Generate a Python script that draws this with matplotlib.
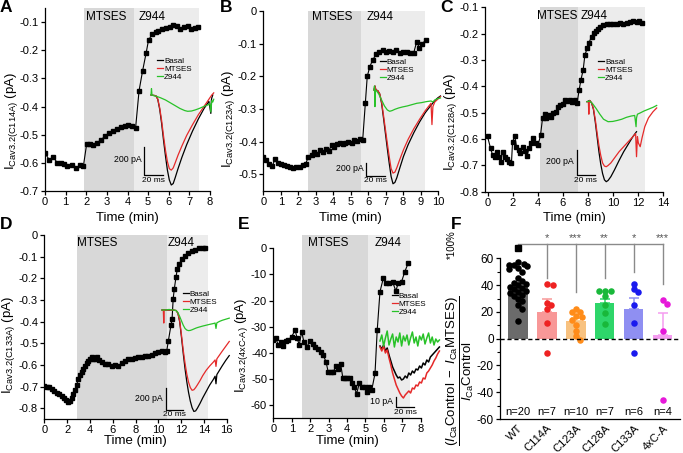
import numpy as np
import matplotlib
matplotlib.use('Agg')
import matplotlib.pyplot as plt
from matplotlib.lines import Line2D
from matplotlib.ticker import FuncFormatter, FixedLocator
import matplotlib.transforms as mtransforms
from matplotlib.mathtext import MathTextParser

plt.rcParams['font.family'] = ['Liberation Sans', 'DejaVu Sans']
plt.rcParams['mathtext.fontset'] = 'custom'
plt.rcParams['mathtext.rm'] = 'Liberation Sans'
plt.rcParams['mathtext.it'] = 'Liberation Sans:italic'
plt.rcParams['mathtext.bf'] = 'Liberation Sans:bold'
plt.rcParams['axes.unicode_minus'] = False

# ======================= DATA =======================
# --- time courses (min, pA) ---
A_t = [0, 0.21, 0.4, 0.6, 0.76, 0.92, 1.08, 1.29, 1.5, 1.7, 1.86,
       2.02, 2.18, 2.34, 2.54, 2.71, 2.91, 3.1, 3.31, 3.5, 3.68, 3.88, 4.04, 4.22, 4.39,
       4.56, 4.73, 4.9, 5.02, 5.19, 5.36, 5.5, 5.69, 5.86, 6.06, 6.22, 6.41, 6.54, 6.74, 6.91, 7.1, 7.27, 7.43]
A_y = [-0.565, -0.59, -0.58, -0.60, -0.60, -0.605, -0.61, -0.607, -0.62, -0.608, -0.612,
       -0.533, -0.534, -0.538, -0.528, -0.519, -0.505, -0.493, -0.486, -0.481, -0.474, -0.469, -0.467, -0.468, -0.478,
       -0.344, -0.274, -0.211, -0.164, -0.144, -0.137, -0.132, -0.126, -0.12, -0.117, -0.111, -0.115, -0.126, -0.119, -0.114, -0.124, -0.121, -0.119]
A_mtses = (1.9, 4.3)
A_z944 = (4.3, 7.45)

B_t = [0, 0.18, 0.35, 0.52, 0.68, 0.85, 1.02, 1.2, 1.38, 1.55, 1.72, 1.9, 2.08, 2.25, 2.42,
       2.58, 2.77, 2.92, 3.09, 3.24, 3.4, 3.57, 3.74, 3.91, 4.05, 4.2, 4.39, 4.54, 4.68, 4.87, 5.06, 5.21, 5.38, 5.53, 5.69,
       5.84, 5.95, 6.1, 6.26, 6.45, 6.64, 6.83, 7.0, 7.2, 7.4, 7.6, 7.8, 8.0, 8.2, 8.4, 8.6, 8.78, 8.93, 9.1, 9.3]
B_y = [-0.448, -0.457, -0.467, -0.474, -0.452, -0.465, -0.468, -0.47, -0.474, -0.478, -0.48, -0.478, -0.478, -0.472, -0.468,
       -0.447, -0.442, -0.431, -0.439, -0.424, -0.431, -0.421, -0.428, -0.411, -0.416, -0.406, -0.403, -0.408, -0.404, -0.401, -0.405, -0.396, -0.398, -0.392, -0.394,
       -0.283, -0.20, -0.17, -0.15, -0.133, -0.125, -0.12, -0.125, -0.122, -0.127, -0.12, -0.128, -0.126, -0.125, -0.13, -0.13, -0.094, -0.112, -0.10, -0.089]
B_mtses = (2.57, 5.62)
B_z944 = (5.62, 9.28)

C_t = [0, 0.24, 0.4, 0.58, 0.77, 0.93, 1.04, 1.2, 1.38, 1.57, 1.73, 1.91, 2.0, 2.18, 2.31, 2.5, 2.63, 2.8, 2.98, 3.16, 3.3, 3.5, 3.64, 3.85, 4.04, 4.23,
       4.39, 4.57, 4.7, 4.9, 5.05, 5.24, 5.45, 5.64, 5.82, 6.04, 6.2, 6.38, 6.57, 6.78, 6.97, 7.15,
       7.31, 7.45, 7.63, 7.77, 7.95, 8.1, 8.3, 8.48, 8.64, 8.83, 9.0, 9.2, 9.5, 9.76, 10.0, 10.3, 10.55, 10.8, 11.1, 11.35, 11.6, 11.9, 12.1, 12.3]
C_y = [-0.59, -0.635, -0.66, -0.667, -0.648, -0.667, -0.689, -0.648, -0.67, -0.677, -0.686, -0.692, -0.61, -0.589, -0.629, -0.64, -0.654, -0.63, -0.644, -0.665, -0.635, -0.616, -0.597, -0.614, -0.623, -0.585,
       -0.521, -0.505, -0.52, -0.509, -0.515, -0.503, -0.496, -0.48, -0.47, -0.468, -0.452, -0.455, -0.45, -0.458, -0.45, -0.462,
       -0.414, -0.376, -0.338, -0.281, -0.256, -0.234, -0.211, -0.199, -0.19, -0.184, -0.175, -0.168, -0.165, -0.162, -0.162, -0.165, -0.16, -0.162, -0.16, -0.157, -0.153, -0.155, -0.152, -0.16]
C_mtses = (4.18, 7.18)
C_z944 = (7.18, 12.6)

D_t = [0, 0.2, 0.44, 0.65, 0.85, 1.08, 1.3, 1.52, 1.72, 1.9, 2.1, 2.25, 2.4, 2.55, 2.7, 2.84, 2.98, 3.13, 3.27, 3.42, 3.57, 3.71, 3.86, 4.0, 4.15, 4.3, 4.44, 4.59,
       4.8, 5.03, 5.32, 5.61, 5.9, 6.2, 6.49, 6.78, 7.08, 7.37, 7.66, 7.95, 8.25, 8.54, 8.83, 9.12, 9.42, 9.71, 10.0, 10.29, 10.58, 10.73,
       10.88, 11.1, 11.2, 11.3, 11.4, 11.55, 11.67, 11.84, 12.05, 12.34, 12.63, 12.92, 13.2, 13.6, 13.95, 14.1]
D_y = [-0.697, -0.70, -0.703, -0.71, -0.72, -0.728, -0.735, -0.743, -0.751, -0.763, -0.77, -0.765, -0.751, -0.735, -0.717, -0.692, -0.666, -0.645, -0.635, -0.619, -0.604, -0.593, -0.58, -0.575, -0.565, -0.572, -0.575, -0.565,
       -0.578, -0.588, -0.596, -0.596, -0.604, -0.599, -0.604, -0.593, -0.58, -0.573, -0.573, -0.568, -0.565, -0.562, -0.557, -0.557, -0.553, -0.546, -0.542, -0.537, -0.539, -0.537,
       -0.488, -0.418, -0.39, -0.294, -0.248, -0.193, -0.155, -0.132, -0.113, -0.098, -0.085, -0.074, -0.067, -0.062, -0.062, -0.062]
D_mtses = (2.84, 10.73)
D_z944 = (10.73, 14.33)

E_t = [0, 0.14, 0.27, 0.4, 0.54, 0.69, 0.81, 1.0, 1.18, 1.3, 1.41, 1.54, 1.66, 1.81, 1.99, 2.13, 2.26, 2.44, 2.57, 2.71,
       2.86, 2.98, 3.11, 3.25, 3.4, 3.53, 3.65, 3.78, 3.89, 4.02, 4.14, 4.25, 4.38, 4.52, 4.67, 4.81, 4.97, 5.06, 5.21, 5.34,
       5.52, 5.64, 5.79, 5.97, 6.11, 6.29, 6.47, 6.65, 6.78, 6.96, 7.14, 7.32]
E_y = [-34.9, -34.5, -37, -35.8, -37.4, -35.5, -35.1, -33.8, -31.3, -34.5, -37, -31.9, -35.8, -37.9, -35.5, -36.7, -37.7, -38.7, -39.8, -40.9,
       -43.4, -47.3, -47.3, -47.3, -45.1, -46, -44.1, -49.8, -49.8, -49.8, -49.8, -51.7, -53, -55.6, -51.7, -53, -53, -54.9, -53, -54.3,
       -47.9, -31.3, -16.6, -11.5, -13.2, -13.2, -12.8, -16.3, -13.4, -12.8, -8.9, -5.7]
E_mtses = (1.54, 5.16)
E_z944 = (5.16, 7.43)

# --- current traces (ms, pA) ---
A_basal_t = [0, 5, 7, 9, 11, 13, 15, 17, 19, 21, 23, 25, 28, 32, 37, 43, 49, 55, 60, 62, 62.5, 63, 64]
A_basal_i = [0, -5, -30, -100, -200, -320, -430, -530, -600, -635, -625, -585, -520, -440, -350, -255, -170, -95, -45, -130, -40, -20, 0]
A_mtses_t = [0, 5, 7, 9, 11, 13, 15, 17, 19, 21, 23, 25, 28, 32, 37, 43, 49, 55, 60, 63, 65]
A_mtses_i = [0, -5, -28, -90, -180, -290, -390, -470, -520, -530, -515, -480, -425, -360, -285, -210, -140, -80, -30, 0, 15]
A_z944_t = [0, 0.5, 1, 3, 6, 10, 15, 20, 25, 30, 35, 38, 42, 46, 50, 55, 59, 61, 62, 63, 64, 65]
A_z944_i = [0, 45, 0, -5, -10, -20, -35, -55, -75, -95, -110, -115, -113, -105, -95, -80, -70, -60, -120, -40, -50, -30]

B_basal_t = [0, 1, 2, 4, 6, 8, 10, 12, 14, 16, 18, 20, 22, 24, 27, 31, 36, 42, 48, 54, 60, 64, 67, 70]
B_basal_i = [0, 60, 0, -10, -60, -200, -420, -650, -880, -1100, -1300, -1410, -1390, -1320, -1180, -1000, -820, -640, -480, -340, -230, -160, -120, -90]
B_mtses_t = [0, 1, 2, 4, 6, 8, 10, 12, 14, 16, 18, 20, 22, 24, 27, 31, 36, 42, 48, 54, 60, 61, 62, 64, 67, 70]
B_mtses_i = [0, 60, 0, -10, -55, -180, -380, -590, -800, -1000, -1180, -1250, -1235, -1170, -1050, -900, -740, -580, -440, -310, -200, -520, -250, -180, -140, -100]
B_z944_t = [0, 0.5, 1, 1.5, 3, 5, 8, 11, 14, 16.5, 19, 22, 26, 30, 35, 40, 45, 50, 55, 60, 62, 64, 67, 70]
B_z944_i = [0, 60, -250, 0, -20, -60, -150, -240, -300, -320, -310, -290, -270, -255, -240, -220, -200, -190, -175, -165, -180, -150, -130, -120]

C_basal_t = [0, 3, 5, 7, 9, 11, 13, 15, 17, 19, 21, 23, 26, 30, 35, 40, 45, 50, 54]
C_basal_i = [0, 10, -10, -60, -160, -280, -400, -500, -575, -625, -640, -630, -600, -545, -470, -400, -340, -280, -240]
C_mtses_t = [0, 1.5, 2, 2.5, 3, 5, 7, 9, 11, 13, 15, 17, 19, 21, 23, 26, 30, 35, 40, 45, 50, 53, 54, 55, 56, 58, 60, 63, 67, 72, 76]
C_mtses_i = [0, 0, -100, 0, 10, -10, -55, -140, -250, -350, -430, -490, -515, -520, -510, -490, -450, -400, -360, -320, -280, -255, -440, -280, -330, -360, -290, -200, -130, -80, -50]
C_z944_t = [0, 3, 6, 10, 14, 18, 23, 28, 33, 38, 43, 48, 52, 53.5, 54, 55, 58, 62, 67, 72, 76]
C_z944_i = [0, 5, -15, -55, -100, -140, -160, -158, -150, -140, -125, -115, -110, -200, -130, -100, -90, -75, -60, -45, -30]

D_basal_t = [0, 4, 8, 12, 16, 18, 20, 22, 24, 26, 28, 30, 32, 34, 36, 38, 40, 43, 46, 50, 54, 58, 60, 61, 62, 65, 68, 72, 76]
D_basal_i = [0, 0, 0, 0, -5, -30, -110, -250, -400, -540, -660, -760, -840, -900, -935, -930, -905, -860, -810, -750, -690, -640, -610, -680, -595, -555, -515, -465, -420]
D_mtses_t = [0, 1.5, 2, 2.5, 4, 8, 12, 16, 18, 20, 22, 24, 26, 28, 30, 32, 34, 36, 38, 40, 43, 46, 50, 54, 58, 60, 61, 62, 65, 68, 72, 76]
D_mtses_i = [0, 0, -120, 0, 0, 0, 0, -5, -30, -100, -230, -370, -490, -590, -665, -715, -740, -735, -715, -690, -650, -605, -555, -515, -480, -460, -520, -450, -415, -380, -335, -290]
D_z944_t = [0, 4, 8, 12, 16, 18, 20, 22, 24, 26, 28, 30, 32, 34, 36, 38, 40, 43, 46, 50, 54, 58, 60, 61, 62, 65, 68, 72, 76]
D_z944_i = [0, 0, 5, 0, -5, -25, -60, -100, -140, -170, -185, -190, -188, -182, -175, -168, -162, -155, -148, -140, -132, -125, -120, -170, -118, -105, -95, -85, -75]

E_tr_t = [0, 2, 4, 6, 8, 10, 12, 14, 16, 18, 20, 22, 24, 26, 28, 30, 32, 34, 36, 38, 40, 42, 44, 46, 48, 50, 52, 54, 56, 58, 60, 62, 64, 66]
E_basal_i = [-3, -6, -2, -8, -5, -12, -18, -24, -28, -32, -35, -34, -37, -36, -33, -35, -30, -32, -28, -30, -26, -27, -23, -25, -20, -22, -17, -19, -14, -12, -10, -8, -6, -4]
E_mtses_i = [-4, -8, -3, -10, -7, -15, -22, -30, -36, -42, -46, -50, -53, -55, -52, -50, -48, -50, -45, -46, -42, -43, -39, -40, -35, -36, -30, -28, -25, -22, -18, -15, -11, -8]
E_z944_i = [2, 8, -3, 5, 12, -2, 4, 9, -4, 6, 1, 10, -3, 7, 2, 8, -2, 5, 11, 0, 6, -3, 7, 3, 9, -1, 5, 10, 0, 6, -2, 4, 1, 3]

# --- panel F ---
F_groups = ['WT', 'C114A', 'C123A', 'C128A', 'C133A', '4xC-A']
F_n = [20, 7, 10, 7, 6, 4]
F_means = [39, 20, 13, 27, 22.5, 2.5]
F_sem = [2.7, 9.5, 2.5, 2.5, 8, 17]
F_WT = [57, 56, 55, 55, 54, 53, 52, 50, 45, 43, 42, 41, 40, 39, 38, 37, 36, 35, 34, 33, 32, 30, 28, 25, 22, 13]
F_C114A = [41, 40, 27, 25, 22, 12, -11]
F_C123A = [22, 20, 20, 17, 16, 14, 10, 6, 2, -1]
F_C128A = [36, 36, 36, 32, 25, 19, 11]
F_C133A = [41, 37.5, 35, 25, 12, -11]
F_4xCA = [29, 26, 6, -46]
F_sig = ['*', '***', '**', '*', '***']
F_drop = [45, 35, 45, 50, 41]
F_bracket = 71

# ======================= FIGURE =======================
W, H = 683, 453
fig = plt.figure(figsize=(W / 100, H / 100), dpi=100)

SH_DARK = '#d8d8d8'
SH_LIGHT = '#ececec'
C_RED = '#e52a2a'
C_GREEN = '#28c228'


def px_axes(l, t, r, b):
    return fig.add_axes([l / W, 1 - b / H, (r - l) / W, (b - t) / H])


def style(ax, lab=8):
    for s in ('top', 'right'):
        ax.spines[s].set_visible(False)
    for s in ('left', 'bottom'):
        ax.spines[s].set_linewidth(0.9)
    ax.tick_params(direction='out', length=3, width=0.9, labelsize=lab, pad=1.5)


def mt_ok(s):
    try:
        MathTextParser('agg').parse(s, dpi=100)
        return True
    except Exception:
        return False


HY = r'\text{-}' if mt_ok(r'$\mathrm{a}\text{-}\mathrm{b}$') else '{-}'


def sub_name(name):
    parts = name.split('-')
    return ('}' + HY + r'\mathrm{').join(parts)


fmt1 = FuncFormatter(lambda v, p: '0' if abs(v) < 1e-9 else f'{v:.1f}')
fmt0 = FuncFormatter(lambda v, p: f'{v:.0f}')

panels = [
    dict(L='A', rect=(45, 8, 210, 191), t=A_t, y=A_y, xlim=(0, 8), ylim=(-0.7, -0.05),
         xt=list(range(0, 9)), yt=[-0.7, -0.6, -0.5, -0.4, -0.3, -0.2, -0.1], mt=A_mtses, zz=A_z944,
         name='C114A', fmt=fmt1, ylab=(-0.15, 0.38), xlab=-0.113, txt=(2.96, 5.19, 0.95),
         letter=(0, 0), leg=(0.68, 0.73), yb=None,
         ins=dict(x0=151, y0=95, pxms=0.965, pxpa=0.1417, sb=(144, 175), sbI=200,
                  tr=[(A_basal_t, A_basal_i), (A_mtses_t, A_mtses_i), (A_z944_t, A_z944_i)])),
    dict(L='B', rect=(263.3, 11, 438, 190.7), t=B_t, y=B_y, xlim=(0, 10), ylim=(-0.55, 0.0),
         xt=list(range(0, 11)), yt=[-0.5, -0.4, -0.3, -0.2, -0.1, 0], mt=B_mtses, zz=B_z944,
         name='C123A', fmt=fmt1, ylab=(-0.15, 0.40), xlab=-0.117, txt=(3.97, 6.68, 0.968),
         letter=(220, 0), leg=(0.668, 0.738), yb=None,
         ins=dict(x0=374, y0=90, pxms=0.95, pxpa=0.0665, sb=(366, 176), sbI=200,
                  tr=[(B_basal_t, B_basal_i), (B_mtses_t, B_mtses_i), (B_z944_t, B_z944_i)])),
    dict(L='C', rect=(485, 7.3, 663, 191.7), t=C_t, y=C_y, xlim=(-0.2, 14), ylim=(-0.8, -0.1),
         xt=list(range(0, 15, 2)), yt=[-0.8, -0.7, -0.6, -0.5, -0.4, -0.3, -0.2, -0.1], mt=C_mtses, zz=C_z944,
         name='C128A', fmt=fmt1, ylab=(-0.145, 0.38), xlab=-0.112, txt=(5.53, 8.49, 0.953),
         letter=(440, 0), leg=(0.635, 0.725), yb=None,
         ins=dict(x0=587, y0=101.7, pxms=0.917, pxpa=0.125, sb=(576.7, 175), sbI=200,
                  tr=[(C_basal_t, C_basal_i), (C_mtses_t, C_mtses_i), (C_z944_t, C_z944_i)])),
    dict(L='D', rect=(44.3, 235, 226.8, 419), t=D_t, y=D_y, xlim=(0, 16), ylim=(-0.85, 0),
         xt=list(range(0, 17, 2)), yt=[-0.8, -0.7, -0.6, -0.5, -0.4, -0.3, -0.2, -0.1, 0], mt=D_mtses, zz=D_z944,
         name='C133A', fmt=fmt1, ylab=(-0.15, 0.40), xlab=-0.085, txt=(4.62, 12.0, 0.955),
         letter=(0, 217), leg=(0.76, 0.70), yb=None,
         ins=dict(x0=162, y0=310, pxms=0.885, pxpa=0.1085, sb=(165.7, 410), sbI=200,
                  tr=[(D_basal_t, D_basal_i), (D_mtses_t, D_mtses_i), (D_z944_t, D_z944_i)])),
    dict(L='E', rect=(273.3, 235.2, 420.7, 418.2), t=E_t, y=E_y, xlim=(0, 8), ylim=(-65, 5),
         xt=list(range(0, 9)), yt=[-60, -50, -40, -30, -20, -10, 0], mt=E_mtses, zz=E_z944,
         name='4xC-A', fmt=fmt0, ylab=(-0.158, 0.40), xlab=-0.09, txt=(2.96, 6.22, 0.956),
         letter=(238, 217), leg=(0.805, 0.69), yb=(-65, 0),
         ins=dict(x0=380, y0=343, pxms=0.9, pxpa=1.0, sb=(396, 407), sbI=10,
                  tr=[(E_tr_t, E_basal_i), (E_tr_t, E_mtses_i), (E_tr_t, E_z944_i)])),
]

for P in panels:
    ax = px_axes(*P['rect'])
    style(ax)
    ax.axvspan(*P['mt'], color=SH_DARK, lw=0, zorder=0)
    ax.axvspan(*P['zz'], color=SH_LIGHT, lw=0, zorder=0)
    ax.plot(P['t'], P['y'], '-', color='k', lw=0.8, marker='s', ms=3.0, zorder=3)
    ax.set_xlim(*P['xlim'])
    ax.set_ylim(*P['ylim'])
    ax.set_xticks(P['xt'])
    ax.set_yticks(P['yt'])
    ax.yaxis.set_major_formatter(P['fmt'])
    if P['yb'] is not None:
        ax.spines['left'].set_bounds(*P['yb'])
    ax.set_ylabel('I$_{\\mathrm{Cav3.2(' + sub_name(P['name']) + ')}}$ (pA)', fontsize=9.5)
    ax.yaxis.set_label_coords(*P['ylab'])
    ax.set_xlabel('Time (min)', fontsize=9.5)
    ax.xaxis.set_label_coords(0.5, P['xlab'])
    tr = mtransforms.blended_transform_factory(ax.transData, ax.transAxes)
    ax.text(P['txt'][0], P['txt'][2], 'MTSES', transform=tr, ha='center', va='center', fontsize=8.5)
    ax.text(P['txt'][1], P['txt'][2], 'Z944', transform=tr, ha='center', va='center', fontsize=8.5)
    handles = [Line2D([], [], color=c, lw=0.9) for c in ('k', C_RED, C_GREEN)]
    ax.legend(handles, ['Basal', 'MTSES', 'Z944'], loc='upper left', bbox_to_anchor=P['leg'],
              frameon=False, fontsize=5.8, handlelength=0.7, handletextpad=0.15,
              labelspacing=0.05, borderpad=0, borderaxespad=0)
    fig.text(P['letter'][0] / W, 1 - P['letter'][1] / H, P['L'], fontsize=12.5,
             fontweight='bold', ha='left', va='top')

    # inset current traces, in ms / pA, on a full-figure overlay axes
    I = P['ins']
    ia = fig.add_axes([0, 0, 1, 1])
    ia.set_xlim(-I['x0'] / I['pxms'], (W - I['x0']) / I['pxms'])
    ia.set_ylim((I['y0'] - H) / I['pxpa'], I['y0'] / I['pxpa'])
    ia.axis('off')
    ia.patch.set_alpha(0)
    lw_tr = 1.1 if P['L'] == 'E' else 0.9
    for (tt, ii), c in zip(I['tr'], ('k', C_RED, C_GREEN)):
        ia.plot(tt, ii, color=c, lw=lw_tr, solid_joinstyle='round')
    sx = (I['sb'][0] - I['x0']) / I['pxms']
    sy = (I['y0'] - I['sb'][1]) / I['pxpa']
    ia.plot([sx, sx, sx + 20], [sy + I['sbI'], sy, sy], color='k', lw=0.9)
    ia.text(sx - 2.5 / I['pxms'], sy + I['sbI'] * 0.55, f"{I['sbI']} pA", ha='right', va='center', fontsize=6.3)
    ia.text(sx + 10, sy - 1.5 / I['pxpa'], '20 ms', ha='center', va='top', fontsize=6.0)

# ---------------- panel F ----------------
axF = px_axes(500, 237, 680, 419)
style(axF, lab=8.5)
xF = np.arange(len(F_groups))
bar_cols = ['#6b6b6b', '#f89898', '#f8c280', '#2ed66a', '#8f8ff2', '#f59cf0']
dot_cols = ['#000000', '#ee2222', '#ff8c1a', '#19b83a', '#1a1aee', '#e619d9']
groups_pts = [F_WT, F_C114A, F_C123A, F_C128A, F_C133A, F_4xCA]

axF.set_xlim(-0.61, 5.6)
axF.set_ylim(-60, 76)
axF.spines['left'].set_bounds(-60, 60)
axF.set_yticks(range(-60, 61, 20))
axF.yaxis.set_minor_locator(FixedLocator(list(range(-50, 51, 20))))
axF.tick_params(axis='y', which='minor', length=2, width=0.8)
axF.bar(xF, F_means, width=0.68, color=bar_cols, zorder=1)
for i in range(len(xF)):
    axF.errorbar(xF[i], F_means[i], yerr=[[0], [F_sem[i]]], color=bar_cols[i], lw=1.1,
                 capsize=3.5, capthick=1.1, zorder=1)


# simple deterministic beeswarm (pixel units: 29 px per category, 1.33 px per unit)
def swarm(vals, xpx=29.0, ypx=1.33, d=4.6):
    placed, offs = [], np.zeros(len(vals))
    for idx in np.argsort(vals)[::-1]:
        yp = vals[idx] * ypx
        o = 0.0
        for k in range(60):
            o = ((k + 1) // 2) * 2.0 * (1 if k % 2 else -1)
            if all((o - px) ** 2 + (yp - py) ** 2 >= d * d for px, py in placed):
                break
        o = max(-9.0, min(9.0, o))
        placed.append((o, yp))
        offs[idx] = o / xpx
    return offs


for i, pts in enumerate(groups_pts):
    pts = np.asarray(pts, float)
    axF.scatter(xF[i] + swarm(pts), pts, s=22, color=dot_cols[i], lw=0, zorder=4)

axF.axhline(0, color='k', lw=1.0, ls=(0, (3, 2)), zorder=5)
br = '#8a8a8a'
axF.plot([xF[0], xF[-1]], [F_bracket, F_bracket], color=br, lw=1.0, clip_on=False, zorder=2)
axF.plot([xF[0]], [F_bracket - 3], marker='s', color='k', ms=4.2, clip_on=False, zorder=6)
for i in range(1, len(xF)):
    axF.plot([xF[i], xF[i]], [F_bracket, F_drop[i - 1]], color=br, lw=1.0, clip_on=False, zorder=2)
    axF.text(xF[i], F_bracket + 0.5, F_sig[i - 1], ha='center', va='bottom', fontsize=8, color='#555555')
for i in range(len(xF)):
    axF.text(xF[i], -55, f'n={F_n[i]}', ha='center', va='center', fontsize=8)
axF.set_xticks(xF)
axF.set_xticklabels(F_groups, rotation=45, ha='right', rotation_mode='anchor', fontsize=8)
axF.tick_params(axis='x', length=0, pad=3)

fig.text(460 / W, 1 - 371 / H,
         r'$\dfrac{(I_{\mathrm{Ca}}\mathrm{Control}\ -\ I_{\mathrm{Ca}}\mathrm{MTSES})}{I_{\mathrm{Ca}}\mathrm{Control}}$',
         rotation=90, ha='center', va='center', fontsize=9.5)
fig.text(452 / W, 1 - 245 / H, '*100%', rotation=90, ha='center', va='center', fontsize=7)
fig.text(451 / W, 1 - 217 / H, 'F', fontsize=12.5, fontweight='bold', ha='left', va='top')

fig.savefig('out.png', dpi=100)
